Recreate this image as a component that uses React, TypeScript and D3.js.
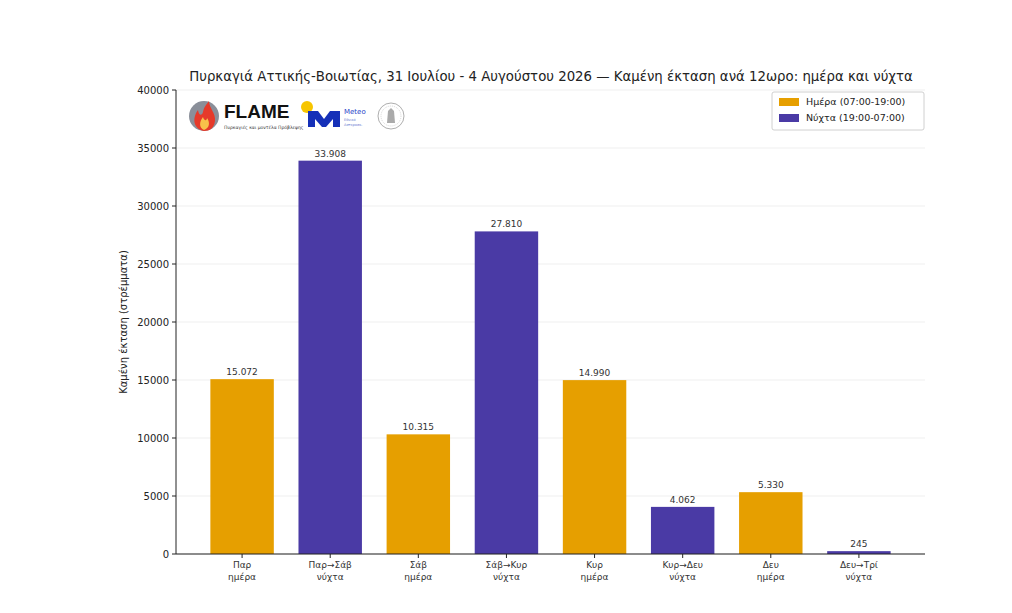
import React from 'react';
import * as d3 from 'd3';

// data
const categories = ['Παρ|ημέρα', 'Παρ→Σάβ|νύχτα', 'Σάβ|ημέρα', 'Σάβ→Κυρ|νύχτα', 'Κυρ|ημέρα', 'Κυρ→Δευ|νύχτα', 'Δευ|ημέρα', 'Δευ→Τρί|νύχτα'];
const burned = [15072, 33908, 10315, 27810, 14990, 4062, 5330, 245];
const isNight = [false, true, false, true, false, true, false, true];
const yTicks = [0, 5000, 10000, 15000, 20000, 25000, 30000, 35000, 40000];
const legendItems = ['Ημέρα (07:00-19:00)', 'Νύχτα (19:00-07:00)'];

const DAY = '#E69F00';
const NIGHT = '#4A3AA5';
const FONT = 'DejaVu Sans, sans-serif';

const W = 1012;
const H = 613;
const left = 176, right = 925, top = 90, bottom = 554;

const App = () => {
  const x = d3.scaleLinear().domain([-0.75, 7.75]).range([left, right]);
  const y = d3.scaleLinear().domain([0, 40000]).range([bottom, top]);
  const barW = x(0.72) - x(0);
  const fmt = (v: number) => d3.format(',')(v).replace(/,/g, '.');

  return (
    <svg width={W} height={H} style={{ position: 'absolute', left: 0, top: 0, background: '#fff' }} fontFamily={FONT}>
      <rect width={W} height={H} fill="#fff" />

      {/* grid */}
      {yTicks.map(t => (
        <line key={'g' + t} x1={left} x2={right} y1={y(t)} y2={y(t)} stroke="#ebebeb" strokeWidth={0.8} />
      ))}

      {/* bars */}
      {burned.map((v, i) => (
        <g key={i}>
          <rect x={x(i) - barW / 2} y={y(v)} width={barW} height={bottom - y(v)} fill={isNight[i] ? NIGHT : DAY} />
          <text x={x(i)} y={y(v) - 4} textAnchor="middle" fontSize={9} fill="#333">{fmt(v)}</text>
        </g>
      ))}

      {/* y axis */}
      <line x1={left} x2={left} y1={top} y2={bottom} stroke="#222" strokeWidth={1} />
      {yTicks.map(t => (
        <g key={'t' + t}>
          <line x1={left - 4} x2={left} y1={y(t)} y2={y(t)} stroke="#222" />
          <text x={left - 7} y={y(t)} dy="0.35em" textAnchor="end" fontSize={10} fill="#222">{t}</text>
        </g>
      ))}
      <text transform={`translate(127,${(top + bottom) / 2}) rotate(-90)`} textAnchor="middle" fontSize={10} fill="#222">
        Καμένη έκταση (στρέμματα)
      </text>

      {/* x axis */}
      <line x1={left} x2={right} y1={bottom} y2={bottom} stroke="#222" strokeWidth={1.2} />
      {categories.map((c, i) => {
        const [a, b] = c.split('|');
        return (
          <g key={'c' + i}>
            <line x1={x(i)} x2={x(i)} y1={bottom} y2={bottom + 4} stroke="#222" />
            <text x={x(i)} y={bottom + 14} textAnchor="middle" fontSize={9} fill="#333">{a}</text>
            <text x={x(i)} y={bottom + 26} textAnchor="middle" fontSize={9} fill="#333">{b}</text>
          </g>
        );
      })}

      {/* title */}
      <text x={551} y={81} textAnchor="middle" fontSize={13.3} fill="#222">
        Πυρκαγιά Αττικής-Βοιωτίας, 31 Ιουλίου - 4 Αυγούστου 2026 — Καμένη έκταση ανά 12ωρο: ημέρα και νύχτα
      </text>

      {/* logos */}
      <g>
        <circle cx={204} cy={116} r={15} fill="#8a8f99" />
        <path d="M204,131 C193,129 192,118 198,110 C199,116 202,116 203,112 C204,106 208,103 209,101 C209,108 216,113 215,121 C214,128 210,131 204,131 Z" fill="#e63a2a" />
        <path d="M204,130 C199,128 199,122 203,117 C204,121 207,121 207,118 C210,122 210,128 204,130 Z" fill="#f8c24a" />
        <text x={224} y={118} fontSize={19} fontWeight="bold" fill="#111" fontFamily="Liberation Sans, Arial, sans-serif">FLAME</text>
        <text x={224} y={129} fontSize={4.5} fill="#333">Πυρκαγιές και μοντέλα Πρόβλεψης</text>
        <circle cx={307} cy={107} r={6} fill="#f7c500" />
        <path d="M308,127 L308,111 L318,111 L324,119 L330,111 L340,111 L340,127 L333,127 L333,119 L326,127 L322,127 L315,119 L315,127 Z" fill="#1530b8" />
        <text x={344} y={114} fontSize={7} fill="#2a44c8">Meteo</text>
        <text x={344} y={121} fontSize={3.5} fill="#6a7ad0">Εθνικό</text>
        <text x={344} y={126} fontSize={3.5} fill="#6a7ad0">Αστεροσκ.</text>
        <circle cx={391} cy={116} r={13} fill="#fff" stroke="#999" strokeWidth={0.8} />
        <circle cx={391} cy={116} r={10} fill="none" stroke="#bbb" strokeWidth={0.6} strokeDasharray="1,1" />
        <path d="M387,123 L388,111 L391,108 L394,111 L395,123 Z" fill="#aaa" />
      </g>

      {/* legend */}
      <g>
        <rect x={772} y={92} width={152} height={38} rx={2} fill="#fff" stroke="#d0d0d0" />
        {legendItems.map((l, i) => (
          <g key={l}>
            <rect x={779} y={98 + i * 16} width={20} height={8} fill={i === 0 ? DAY : NIGHT} />
            <text x={806} y={102 + i * 16} dy="0.35em" fontSize={9.5} fill="#222">{l}</text>
          </g>
        ))}
      </g>
    </svg>
  );
};

export default App;
